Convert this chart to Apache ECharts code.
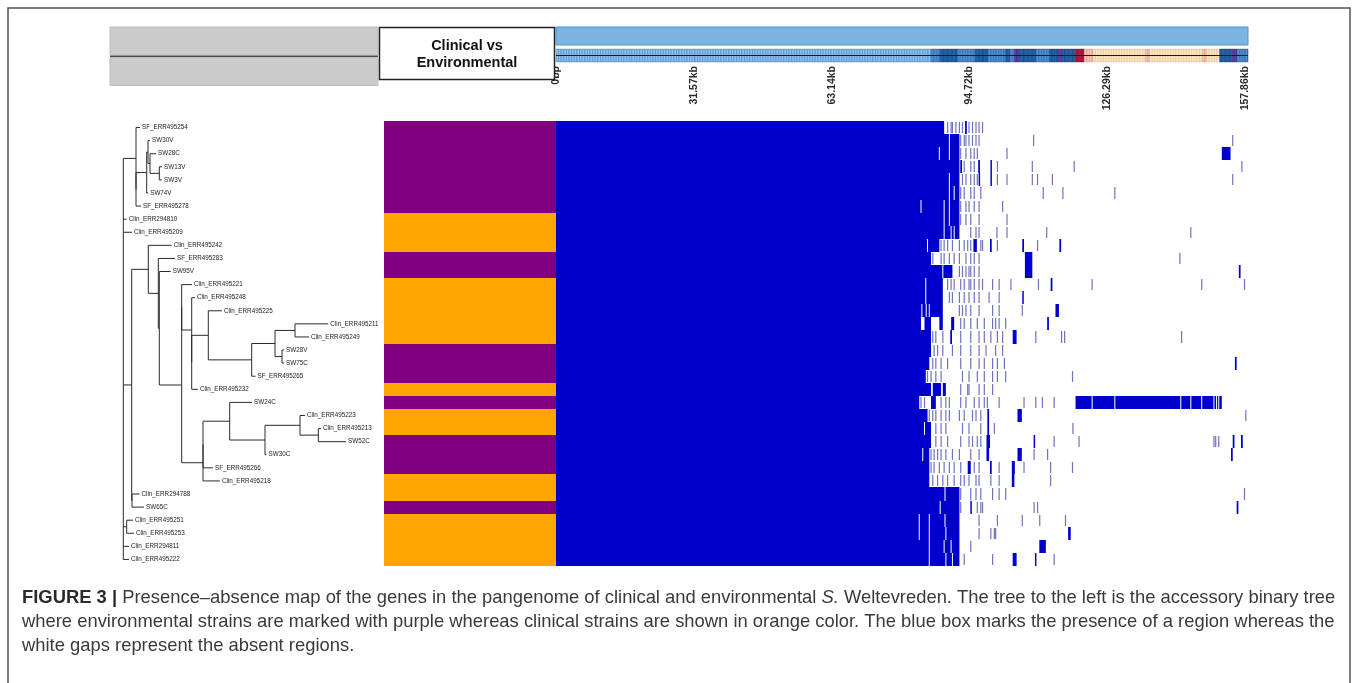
<!DOCTYPE html>
<html><head><meta charset="utf-8">
<script src="https://cdn.jsdelivr.net/npm/echarts@6.0.0/dist/echarts.min.js"></script>
<style>html,body{margin:0;padding:0;background:#fff}#c{width:1358px;height:683px}</style>
</head><body><div id="c"></div>
<script>
// ---------------- DATA ----------------
const GENOME_KB = 158.5;
const tickValues = [0, 31.57, 63.14, 94.72, 126.29, 157.86];

// accessory binary tree (branch lengths)
const treeNewick = "((SF_ERR495254:4,(((SW30V:2,(SW28C:6,(SW13V:2.7,SW3V:2.7):9.3):2):1.3,SW74V:1.5):10.7,SF_ERR495278:5):0):12.7,Clin_ERR294810:3.4,Clin_ERR495209:8.7,((Clin_ERR495242:23.4,(SF_ERR495283:16.7,(SW95V:11.4,((Clin_ERR495221:10.3,(Clin_ERR495248:3.3,((Clin_ERR495225:13.7,(((Clin_ERR495211:33.3,Clin_ERR495249:14):20,(SW28V:2,SW75C:2):7):23.3,SF_ERR495265:3.8):43.4):16.6,Clin_ERR495232:6.3):0):10):0,(((SW24C:22.3,((Clin_ERR495223:5,(Clin_ERR495213:2.7,SW52C:27.7):18.3):35,SW30C:1.5):35.3):26.7,SF_ERR495266:10):0,Clin_ERR495218:17):21.3):22.4):1):10):16.6,(Clin_ERR294788:7.5,SW65C:12):0.3):8.4,(Clin_ERR495251:6.3,Clin_ERR495253:7.3):3.4,Clin_ERR294811:5.7,Clin_ERR495222:5.7);";

const strains = ['SF_ERR495254','SW30V','SW28C','SW13V','SW3V','SW74V','SF_ERR495278','Clin_ERR294810','Clin_ERR495209','Clin_ERR495242','SF_ERR495283','SW95V','Clin_ERR495221','Clin_ERR495248','Clin_ERR495225','Clin_ERR495211','Clin_ERR495249','SW28V','SW75C','SF_ERR495265','Clin_ERR495232','SW24C','Clin_ERR495223','Clin_ERR495213','SW52C','SW30C','SF_ERR495266','Clin_ERR495218','Clin_ERR294788','SW65C','Clin_ERR495251','Clin_ERR495253','Clin_ERR294811','Clin_ERR495222'];

// E = environmental, C = clinical
const source = ['E','E','E','E','E','E','E','C','C','C','E','E','C','C','C','C','C','E','E','E','C','E','C','C','E','E','E','C','C','E','C','C','C','C'];

// presence: continuous region from 0 kb up to solidEnd (kb)
const solidEnd = [88.9,92.4,92.4,92.4,92.4,92.4,92.4,92.4,92.4,87.8,85.9,90.8,88.6,88.6,88.6,83.6,85.9,85.9,85.5,84.7,85.9,83.2,85.1,85.9,85.9,85.5,85.5,85.5,92.4,92.4,92.4,92.4,92.4,92.4];

// wider present blocks [start, end] kb
const blocks = [
 [[93.7,94.1]], [], [[152.5,154.5]], [[92.6,93.0],[96.7,97.1],[99.5,99.8]], [[96.8,97.1],[99.5,99.8]],
 [], [], [], [],
 [[95.6,96.4],[99.4,99.8],[106.8,107.2],[115.3,115.7]],
 [[107.4,109.1]], [[107.4,109.1],[156.4,156.8]], [[113.3,113.7]], [[106.8,107.1]], [[114.4,115.2]],
 [[84.4,85.9],[87.8,88.6],[90.5,91.2],[112.5,112.9]], [[90.3,90.7],[104.6,105.5]], [], [[155.5,155.9]], [],
 [[86.3,88.2],[88.6,89.3]], [[85.9,87.0],[119.0,152.5]], [[98.8,99.2],[105.7,106.7]], [[98.8,99.2]],
 [[98.6,99.4],[109.4,109.7],[155.0,155.4],[156.9,157.3]], [[98.6,99.2],[105.7,106.7],[154.6,155.0]],
 [[94.3,95.0],[99.4,99.8],[104.4,105.1]], [[104.4,105.0]], [], [[94.9,95.2],[155.9,156.3]], [],
 [[117.3,117.9]], [[110.7,112.2]], [[104.6,105.5],[109.7,110.0]]
];

// narrow present regions (kb)
const ticks = [
 [89.7,90.5,90.8,91.6,92.4,93.1,94.6,95.4,96.2,96.9,97.7],
 [92.7,93.5,93.9,94.6,95.4,96.2,96.9,109.4,155.0],
 [92.7,93.9,95.0,95.8,96.5,103.3],
 [93.5,95.0,95.8,101.1,109.1,118.7,157.1],
 [93.1,93.9,95.0,95.8,96.5,101.1,103.3,109.1,110.3,113.7,155.0],
 [92.7,93.5,95.0,95.8,97.3,111.6,116.1,128.0],
 [92.7,93.9,94.6,95.8,96.9,102.3],
 [92.7,93.9,95.0,96.9,103.3],
 [95.0,96.2,96.9,101.0,103.3,112.4,145.4],
 [88.2,88.9,89.7,90.8,92.4,93.5,94.3,95.0,97.3,97.7,101.1,110.3],
 [86.3,88.2,88.9,90.1,91.2,92.4,93.9,95.0,95.8,96.9,142.9],
 [92.4,93.1,93.9,94.6,95.0,95.8,96.9],
 [89.7,90.5,91.2,92.7,93.5,94.6,95.0,95.8,96.9,97.7,100.0,101.5,104.2,110.5,122.8,147.9,157.7],
 [90.1,90.8,92.4,93.5,94.6,95.8,96.9,99.2,101.5],
 [92.4,93.1,93.9,95.0,96.9,100.0,101.5,106.8],
 [92.7,93.5,95.0,96.5,98.1,100.0,100.7,101.5,103.0],
 [86.3,87.0,88.6,92.7,95.0,96.9,98.1,99.6,101.1,102.3,109.9,115.8,116.5,143.3],
 [86.6,87.4,88.6,90.8,92.7,95.0,96.9,98.5,100.7,102.3],
 [86.3,87.0,88.2,89.7,92.7,95.0,96.9,98.1,100.0,101.1,102.7],
 [85.1,85.9,87.0,88.2,93.1,94.6,96.5,98.1,100.0,101.1,103.0,118.3],
 [92.7,94.3,94.6,96.9,98.1,100.0],
 [83.6,84.4,88.2,89.3,90.1,92.7,93.9,95.8,96.9,98.1,98.8,101.5,107.2,109.9,111.4,114.1],
 [85.5,86.3,87.0,88.2,89.3,90.1,92.4,93.5,95.4,96.2,97.3,158.0],
 [87.0,88.2,89.3,93.1,94.6,97.3,100.4,118.4],
 [87.0,88.2,89.7,92.7,94.6,95.4,96.5,97.3,114.1,119.8,150.7,151.1,151.8],
 [85.9,86.6,87.4,88.2,89.3,90.8,92.4,95.0,96.9,109.5,112.6],
 [85.9,86.6,87.8,88.9,90.1,91.2,92.7,95.8,96.9,101.5,107.2,113.3,118.3],
 [86.3,87.4,88.6,89.7,91.2,92.7,93.5,94.6,96.2,96.9,99.6,101.5,113.3],
 [92.7,95.0,96.2,97.3,100.0,101.5,103.0,157.7],
 [92.7,96.5,97.3,97.7,109.5,110.3],
 [96.9,101.1,106.8,110.8,116.7],
 [96.9,99.6,100.4,100.7],
 [95.0],
 [93.5,100.0,114.1]
];

// absent single positions inside present regions (kb)
const gaps = [
 [], [90.1], [87.8,90.1], [], [90.1], [90.1,91.2], [83.6,88.9,90.1], [88.9,90.1], [88.9,90.5,91.2],
 [85.1], [], [88.6], [84.7], [84.7], [83.8,84.8,85.5], [], [], [], [], [], [],
 [122.8,128.0,143.1,145.4,147.9,150.7,151.3,151.8], [], [84.4], [], [84.0], [], [],
 [89.1], [88.0], [83.2,85.5,89.1], [83.2,85.5,89.3], [85.5,88.9,90.5], [85.5,89.3,90.8]
];

// genome overview strip: [start kb, end kb, level]
const stripSegs = [
 [0,86,0],[86,88,1],[88,92,2],[92,96,1],[96,99,2],[99,103,1],[103,104,2],[104,105,1],[105,106,5],
 [106,110,2],[110,113,1],[113,115,2],[115,116,5],[116,119,2],[119,121,3],[121,123,6],[123,135,4],
 [135,136,6],[136,148,4],[148,149,6],[149,152,4],[152,155,2],[155,156,5],[156,158.5,1]
];

// ---------------- TREE LAYOUT ----------------
function parseNewick(s) {
  let i = 0;
  function node() {
    const n = { children: [], name: '', len: 0 };
    if (s[i] === '(') {
      i++; n.children.push(node());
      while (s[i] === ',') { i++; n.children.push(node()); }
      i++;
    }
    let name = '';
    while (i < s.length && ',():;'.indexOf(s[i]) < 0) name += s[i++];
    n.name = name;
    if (s[i] === ':') {
      i++; let num = '';
      while (i < s.length && ',();'.indexOf(s[i]) < 0) num += s[i++];
      n.len = parseFloat(num);
    }
    return n;
  }
  return node();
}
const root = parseNewick(treeNewick);
root.len = 0;
const leaves = [];
function lay(n, x0) {
  n.x = x0 + n.len;
  if (!n.children.length) { n.y = leaves.length; leaves.push(n); return; }
  n.children.forEach(c => lay(c, n.x));
  n.y = (n.children[0].y + n.children[n.children.length - 1].y) / 2;
}
lay(root, 0);
const treeSegs = [];
(function walk(n) {
  if (!n.children.length) return;
  const f = n.children[0], l = n.children[n.children.length - 1];
  treeSegs.push([n.x, f.y, n.x, l.y]);
  n.children.forEach(c => { treeSegs.push([n.x, c.y, c.x, c.y]); walk(c); });
})(root);
const leafData = leaves.map((lf, i) => [lf.x, lf.y, i]);

// ---------------- MARKS ----------------
const mapData = [];
for (let r = 0; r < strains.length; r++) mapData.push([0, solidEnd[r], r, 0]);
blocks.forEach((bl, r) => bl.forEach(b => mapData.push([b[0], b[1], r, 1])));
ticks.forEach((tk, r) => tk.forEach(t => mapData.push([t, t, r, 2])));
gaps.forEach((gp, r) => gp.forEach(g => mapData.push([g, g, r, 3])));

const stripData = [];
stripSegs.forEach(s => {
  for (let a = s[0]; a < s[1] - 1e-6; a += 0.6) stripData.push([a, Math.min(a + 0.6, s[1]), s[2]]);
});
const stripFill = ['#8cc0e8','#4f90cc','#1f62a6','#b3133f','#f8e6bf','#5b3d9e','#f1c5ad'];
const stripLine = ['rgba(30,90,160,0.55)','rgba(20,60,130,0.6)','rgba(10,40,100,0.6)','rgba(120,0,30,0.6)','rgba(225,150,120,0.45)','rgba(60,20,110,0.6)','rgba(210,120,110,0.5)'];

const BLUE = '#0000cc';
const chart = echarts.init(document.getElementById('c'), null, { renderer: 'canvas' });

const FONT = "'Liberation Sans', Arial, sans-serif";
const CAP_FS = 18.4;
const capStyle = { fontFamily: FONT, fontSize: CAP_FS, fill: '#3a3a3a', verticalAlign: 'middle' };

function rowBox(api, s, e, r) {
  const a = api.coord([s, r - 0.5]), b = api.coord([e, r + 0.5]);
  const y1 = Math.round(a[1]), y2 = Math.round(b[1]);
  return { x1: a[0], x2: b[0], y1: y1, y2: y2 };
}

chart.setOption({
  animation: false,
  backgroundColor: '#ffffff',
  grid: [
    { left: 556, width: 692, top: 27, height: 18 },
    { left: 556, width: 692, top: 49, height: 13 },
    { left: 556, width: 692, top: 121, height: 445 },
    { left: 384, width: 172, top: 121, height: 445 },
    { left: 123.3, width: 255, top: 121, height: 445 }
  ],
  xAxis: [
    { gridIndex: 0, type: 'value', min: 0, max: GENOME_KB, show: false },
    { gridIndex: 1, type: 'value', min: 0, max: GENOME_KB, interval: 31.572,
      axisLine: { show: false }, splitLine: { show: false },
      axisTick: { show: true, inside: true, length: 8, customValues: tickValues, lineStyle: { color: '#222', width: 1 } },
      axisLabel: { customValues: tickValues, rotate: 90, margin: 4, fontSize: 10.5, fontWeight: 'bold', color: '#2a2a2a', fontFamily: FONT,
        formatter: v => { const t = tickValues.find(q => Math.abs(q - v) < 0.05); if (t === undefined) return ''; return t === 0 ? '0bp' : t.toFixed(2) + 'kb'; } } },
    { gridIndex: 2, type: 'value', min: 0, max: GENOME_KB, show: false },
    { gridIndex: 3, type: 'value', min: 0, max: 1, show: false },
    { gridIndex: 4, type: 'value', min: 0, max: 255, show: false }
  ],
  yAxis: [
    { gridIndex: 0, type: 'value', min: 0, max: 1, show: false },
    { gridIndex: 1, type: 'value', min: 0, max: 1, show: false },
    { gridIndex: 2, type: 'value', min: -0.5, max: 33.5, inverse: true, show: false },
    { gridIndex: 3, type: 'value', min: -0.5, max: 33.5, inverse: true, show: false },
    { gridIndex: 4, type: 'value', min: -0.5, max: 33.5, inverse: true, show: false }
  ],
  series: [
    { type: 'custom', xAxisIndex: 0, yAxisIndex: 0, silent: true, data: [[0, GENOME_KB]], encode: { x: [0, 1] },
      renderItem: (p, api) => { const a = api.coord([api.value(0), 1]), b = api.coord([api.value(1), 0]);
        return { type: 'rect', shape: { x: a[0], y: a[1], width: b[0] - a[0], height: b[1] - a[1] }, style: { fill: '#7db5e2', stroke: '#4f94cf', lineWidth: 1 } }; } },
    { type: 'custom', xAxisIndex: 1, yAxisIndex: 1, silent: true, data: stripData, encode: { x: [0, 1] },
      renderItem: (p, api) => { const a = api.coord([api.value(0), 1]), b = api.coord([api.value(1), 0]); const lv = api.value(2);
        return { type: 'rect', shape: { x: a[0], y: a[1], width: b[0] - a[0], height: b[1] - a[1] }, style: { fill: stripFill[lv], stroke: stripLine[lv], lineWidth: 0.6 } }; } },
    { type: 'custom', xAxisIndex: 2, yAxisIndex: 2, silent: true, data: mapData, encode: { x: [0, 1], y: 2 },
      renderItem: (p, api) => {
        const k = api.value(3);
        const bx = rowBox(api, api.value(0), api.value(1), api.value(2));
        const h = bx.y2 - bx.y1;
        if (k === 0 || k === 1) return { type: 'rect', shape: { x: bx.x1, y: bx.y1, width: Math.max(bx.x2 - bx.x1, 1.5), height: h }, style: { fill: BLUE } };
        if (k === 2) return { type: 'rect', shape: { x: bx.x1 - 0.6, y: bx.y1 + 1, width: 1.2, height: h - 2 }, style: { fill: '#6e72bf' } };
        return { type: 'rect', shape: { x: bx.x1 - 0.5, y: bx.y1, width: 1, height: h }, style: { fill: '#ffffff' } };
      } },
    { type: 'custom', xAxisIndex: 3, yAxisIndex: 3, silent: true, data: source.map((s, i) => [i, s === 'E' ? 1 : 0]), encode: { y: 0 },
      renderItem: (p, api) => { const r = api.value(0); const bx = rowBox(api, 0, 1, r);
        return { type: 'rect', shape: { x: bx.x1, y: bx.y1, width: bx.x2 - bx.x1, height: bx.y2 - bx.y1 }, style: { fill: api.value(1) ? '#800080' : '#ffa500' } }; } },
    { type: 'custom', xAxisIndex: 4, yAxisIndex: 4, silent: true, data: treeSegs, encode: { x: [0, 2], y: [1, 3] },
      renderItem: (p, api) => { const a = api.coord([api.value(0), api.value(1)]), b = api.coord([api.value(2), api.value(3)]);
        return { type: 'line', shape: { x1: a[0], y1: a[1], x2: b[0], y2: b[1] }, style: { stroke: '#2a2a2a', lineWidth: 1 } }; } },
    { type: 'custom', xAxisIndex: 4, yAxisIndex: 4, silent: true, data: leafData, encode: { x: 0, y: 1 },
      renderItem: (p, api) => { const a = api.coord([api.value(0), api.value(1)]);
        return { type: 'text', style: { x: a[0] + 2, y: a[1], text: leaves[api.value(2)].name, fontSize: 6.3, fontFamily: FONT, fill: '#222', verticalAlign: 'middle', align: 'left' } }; } }
  ],
  graphic: [
    { type: 'rect', z: 100, shape: { x: 8, y: 8, width: 1342, height: 700 }, style: { fill: 'none', stroke: '#555', lineWidth: 1.5 } },
    { type: 'rect', z: 100, shape: { x: 110, y: 27, width: 268, height: 28 }, style: { fill: '#cbcbcb', stroke: '#bcbcbc', lineWidth: 1 } },
    { type: 'rect', z: 100, shape: { x: 110, y: 57.5, width: 268, height: 28 }, style: { fill: '#cbcbcb', stroke: '#bcbcbc', lineWidth: 1 } },
    { type: 'line', z: 101, shape: { x1: 110, y1: 56.3, x2: 378, y2: 56.3 }, style: { stroke: '#4a4a4a', lineWidth: 1.6 } },
    { type: 'rect', z: 100, shape: { x: 379.5, y: 27.5, width: 175, height: 52 }, style: { fill: '#fff', stroke: '#222', lineWidth: 1.5 } },
    { type: 'text', z: 101, style: { x: 467, y: 54, text: 'Clinical vs\nEnvironmental', align: 'center', verticalAlign: 'middle', fontSize: 14.5, fontWeight: 'bold', lineHeight: 17, fontFamily: FONT, fill: '#111' } },
    { type: 'line', z: 101, shape: { x1: 556, y1: 55.5, x2: 1248, y2: 55.5 }, style: { stroke: '#1a1a1a', lineWidth: 1.2 } },
    { type: 'text', z: 101, style: Object.assign({}, capStyle, { x: 22, y: 598,
        text: '{b|FIGURE 3 |} Presence–absence map of the genes in the pangenome of clinical and environmental {i|S.} Weltevreden. The tree to the left is the accessory binary tree',
        rich: { b: { fontWeight: 'bold', fontSize: CAP_FS, fontFamily: FONT, fill: '#2a2a2a' }, i: { fontStyle: 'italic', fontSize: CAP_FS, fontFamily: FONT, fill: '#3a3a3a' } } }) },
    { type: 'text', z: 101, style: Object.assign({}, capStyle, { x: 22, y: 622,
        text: 'where environmental strains are marked with purple whereas clinical strains are shown in orange color. The blue box marks the presence of a region whereas the' }) },
    { type: 'text', z: 101, style: Object.assign({}, capStyle, { x: 22, y: 646, text: 'white gaps represent the absent regions.' }) }
  ]
});
</script></body></html>
